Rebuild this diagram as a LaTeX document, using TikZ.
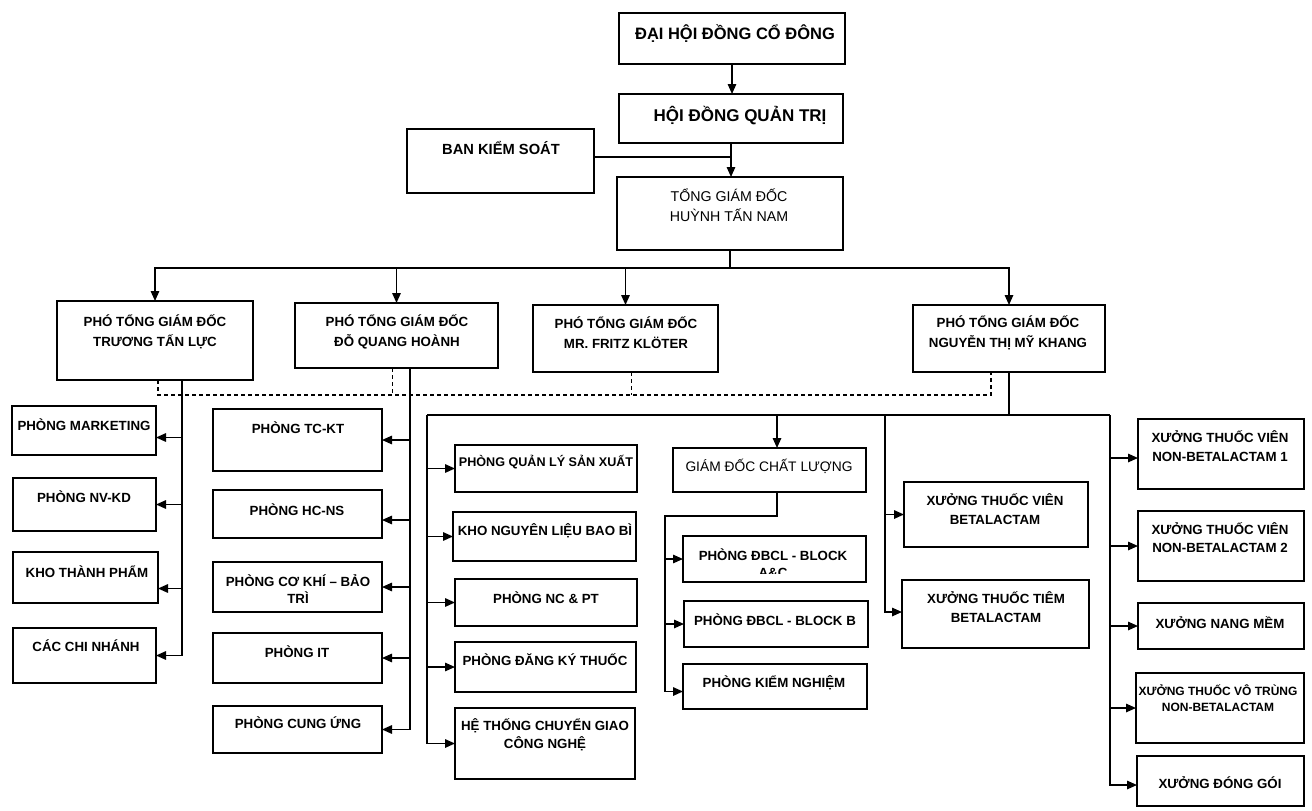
\documentclass[tikz,border=0pt]{standalone}
\usepackage{fontspec}
\setmainfont{Liberation Sans}
\usetikzlibrary{arrows.meta,calc}
\tikzset{
  box/.style={draw, line width=1.5pt, inner sep=0pt, outer sep=0pt},
  txt/.style={font=\bfseries\fontsize{13.3}{19}\selectfont, align=center, inner sep=0pt},
  reg/.style={font=\mdseries\fontsize{14.2}{20}\selectfont},
  ln/.style={line width=1.5pt},
  arr/.style={line width=1.5pt, -{Triangle[length=10pt,width=8.5pt]}},
  dsh/.style={line width=1.5pt, dash pattern=on 4pt off 3pt}
}
\newcommand\bx[9][]{%
  \node[box, minimum width={#5-#3}, minimum height={#6-#4}] (#2) at ({(#3+#5)/2},{(#4+#6)/2}) {};%
  \node[txt,#1] (#2t) at (#7,#8) {#9};}
\begin{document}
\begin{tikzpicture}[x=1pt,y=-1pt]
\useasboundingbox (0,0) rectangle (1312,811);
\fill[white] (0,0) rectangle (1312,811);
% top
\bx[font=\bfseries\fontsize{16.5}{20}\selectfont]{dh}{619}{13}{845}{64}{735}{34}{ĐẠI HỘI ĐỒNG CỔ ĐÔNG}
\bx[font=\bfseries\fontsize{17}{20}\selectfont]{hd}{619}{94}{843}{143}{740}{116}{HỘI ĐỒNG QUẢN TRỊ}
\bx[font=\bfseries\fontsize{14.7}{20}\selectfont]{bks}{407}{129}{594}{193}{501}{148}{BAN KIỂM SOÁT}
\bx[reg]{tgd}{617}{177}{843}{250}{729}{205}{TỔNG GIÁM ĐỐC\\HUỲNH TẤN NAM}
% deputies
\bx[font=\bfseries\fontsize{13.3}{20}\selectfont]{p1}{57}{301}{253}{380}{155}{332}{PHÓ TỔNG GIÁM ĐỐC\\TRƯƠNG TẤN LỰC}
\bx[font=\bfseries\fontsize{13.3}{20}\selectfont]{p2}{295}{303}{498}{368}{397}{332}{PHÓ TỔNG GIÁM ĐỐC\\ĐỖ QUANG HOÀNH}
\bx[font=\bfseries\fontsize{13.3}{20}\selectfont]{p3}{533}{305}{718}{372}{626}{333}{PHÓ TỔNG GIÁM ĐỐC\\MR. FRITZ KLÖTER}
\bx[font=\bfseries\fontsize{13.3}{20}\selectfont]{p4}{913}{305}{1105}{372}{1008}{333}{PHÓ TỔNG GIÁM ĐỐC\\NGUYỄN THỊ MỸ KHANG}
% column 1
\bx{mkt}{12}{406}{156}{455}{84}{425}{PHÒNG MARKETING}
\bx{nvkd}{13}{478}{156}{531}{84}{497}{PHÒNG NV-KD}
\bx{kho}{13}{552}{158}{603}{87}{572}{KHO THÀNH PHẨM}
\bx{cn}{13}{628}{156}{683}{86}{646}{CÁC CHI NHÁNH}
% column 2
\bx{tckt}{213}{409}{382}{471}{298}{428}{PHÒNG TC-KT}
\bx{hcns}{213}{490}{382}{538}{297}{510}{PHÒNG HC-NS}
\bx[font=\bfseries\fontsize{13.3}{17}\selectfont]{ck}{213}{562}{382}{612}{298}{589}{PHÒNG CƠ KHÍ – BẢO\\TRÌ}
\bx{it}{213}{633}{382}{683}{297}{652}{PHÒNG IT}
\bx{cu}{213}{706}{382}{753}{298}{723}{PHÒNG CUNG ỨNG}
% column 3
\bx[font=\bfseries\fontsize{12.6}{18}\selectfont]{qlsx}{455}{445}{637}{492}{546}{462}{PHÒNG QUẢN LÝ SẢN XUẤT}
\bx{knl}{453}{512}{636}{561}{545}{531}{KHO NGUYÊN LIỆU BAO BÌ}
\bx{nc}{455}{579}{637}{626}{546}{598}{PHÒNG NC \& PT}
\bx{dk}{455}{642}{636}{692}{545}{660}{PHÒNG ĐĂNG KÝ THUỐC}
\bx[font=\bfseries\fontsize{13.3}{18}\selectfont]{ht}{455}{708}{635}{779}{545}{735}{HỆ THỐNG CHUYỂN GIAO\\CÔNG NGHỆ}
% quality
\bx[font=\mdseries\fontsize{13.8}{18}\selectfont]{gdcl}{673}{448}{866}{492}{769}{466}{GIÁM ĐỐC CHẤT LƯỢNG}
\bx{qa}{683}{536}{866}{582}{773}{555}{PHÒNG ĐBCL - BLOCK}
\begin{scope}
  \clip (684,537) rectangle (865,573);
  \node[txt] (qat2) at (773,573) {A\&C};
\end{scope}
\bx{qb}{684}{601}{868}{647}{775}{620}{PHÒNG ĐBCL - BLOCK B}
\bx{kn}{683}{664}{867}{709}{774}{683}{PHÒNG KIỂM NGHIỆM}
% column 4
\bx{xvb}{904}{482}{1088}{547}{995}{509}{XƯỞNG THUỐC VIÊN\\BETALACTAM}
\bx{xtb}{902}{580}{1089}{648}{996}{607}{XƯỞNG THUỐC TIÊM\\BETALACTAM}
% column 5
\bx[font=\bfseries\fontsize{13.3}{19}\selectfont]{nb1}{1138}{419}{1304}{489}{1220}{446}{XƯỞNG THUỐC VIÊN\\NON-BETALACTAM 1}
\bx[font=\bfseries\fontsize{13.3}{18}\selectfont]{nb2}{1138}{511}{1304}{581}{1220}{538}{XƯỞNG THUỐC VIÊN\\NON-BETALACTAM 2}
\bx{nm}{1138}{603}{1304}{649}{1220}{623}{XƯỞNG NANG MỀM}
\bx[font=\bfseries\fontsize{12}{16}\selectfont]{vt}{1136}{673}{1304}{743}{1218}{698}{XƯỞNG THUỐC VÔ TRÙNG\\NON-BETALACTAM}
\bx{dg}{1137}{756}{1304}{806}{1220}{783}{XƯỞNG ĐÓNG GÓI}
% top connectors
\draw[arr] (dh.south) -- (dh.south |- hd.north);
\draw[arr] (hd.south) -- (hd.south |- tgd.north);
\coordinate (bksj) at ($(bks.east)+(0,-4)$);
\draw[ln] (bksj) -- (bksj -| hd.south);
\coordinate (b1) at (731,268);
\draw[ln] (tgd.south) -- (tgd.south |- b1);
\draw[arr] (tgd.south |- b1) -| (p1.north);
\draw[arr] (tgd.south |- b1) -| (p2.north);
\draw[arr] (tgd.south |- b1) -| (p3.north);
\draw[arr] (tgd.south |- b1) -| (p4.north);
% dashed links
\coordinate (dl) at (0,395);
\coordinate (d1) at ($(p1.south)+(3,0)$);
\coordinate (d2) at ($(p2.south)+(-4,0)$);
\coordinate (d3) at ($(p3.south)+(6,0)$);
\coordinate (d4) at ($(p4.south)+(-18,0)$);
\draw[dsh] (d1) -- (d1 |- dl) -- (d4 |- dl) -- (d4);
\draw[dsh] (d2) -- (d2 |- dl);
\draw[dsh] (d3) -- (d3 |- dl);
% column 1 links
\coordinate (s1) at ($(p1.south)+(27,0)$);
\draw[arr] (s1) |- ($(mkt.east)+(0,7)$);
\draw[arr] (s1) |- (nvkd.east);
\draw[arr] (s1) |- ($(kho.east)+(0,11)$);
\draw[arr] (s1) |- (cn.east);
% column 2 links
\coordinate (s2) at ($(p2.south)+(13.5,0)$);
\draw[arr] (s2) |- (tckt.east);
\draw[arr] (s2) |- ($(hcns.east)+(0,6)$);
\draw[arr] (s2) |- (ck.east);
\draw[arr] (s2) |- (it.east);
\draw[arr] (s2) |- (cu.east);
% right bus
\coordinate (bL) at (427,415);
\coordinate (bM) at (885,415);
\coordinate (bR) at (1110,415);
\draw[ln] (p4.south) -- (p4.south |- bL);
\draw[ln] (bL) -- (bR);
\draw[arr] (bL) |- (qlsx.west);
\draw[arr] (bL) |- (knl.west);
\draw[arr] (bL) |- (nc.west);
\draw[arr] (bL) |- (dk.west);
\draw[arr] (bL) |- (ht.west);
\coordinate (g) at ($(gdcl.north)+(7.5,0)$);
\draw[arr] (g |- bL) -- (g);
\coordinate (gs) at ($(gdcl.south)+(7.5,0)$);
\coordinate (gq) at (665,516);
\draw[arr] (gs) |- (gq) |- ($(kn.west)+(0,5)$);
\draw[arr] (gq |- qa.west) -- (qa.west);
\draw[arr] (gq |- qb.west) -- (qb.west);
\draw[arr] (bM) |- (xvb.west);
\draw[arr] (bM) |- ($(xtb.west)+(0,-2)$);
\draw[arr] (bR) |- ($(nb1.west)+(0,4)$);
\draw[arr] (bR) |- (nb2.west);
\draw[arr] (bR) |- (nm.west);
\draw[arr] (bR) |- (vt.west);
\draw[arr] (bR) |- ($(dg.west)+(0,4)$);
\end{tikzpicture}
\end{document}
